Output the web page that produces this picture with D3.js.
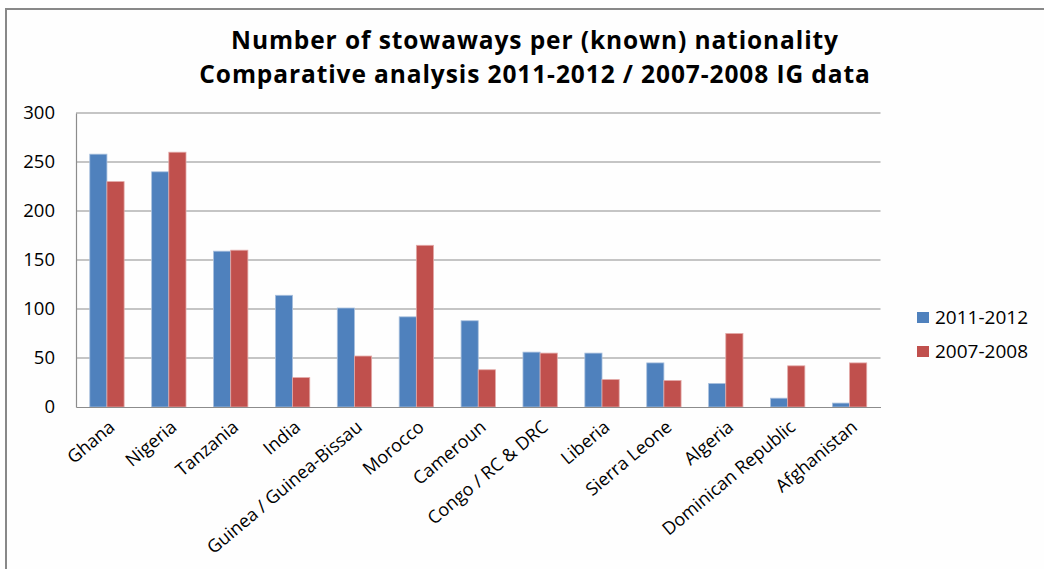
<!DOCTYPE html>
<html><head><meta charset="utf-8">
<script src="https://cdn.jsdelivr.net/npm/d3@7"></script>
<style>
html,body{margin:0;padding:0;background:#fff;}
svg{display:block;}
text{font-family:"Open Sans","Lato",sans-serif;fill:#000;}
</style></head>
<body><svg id="c" width="1044" height="569"></svg>
<script>
const categories = ["Ghana","Nigeria","Tanzania","India","Guinea / Guinea-Bissau","Morocco","Cameroun","Congo / RC & DRC","Liberia","Sierra Leone","Algeria","Dominican Republic","Afghanistan"];
const series = ["2011-2012","2007-2008"];
const values2011 = [258,240,159,114,101,92,88,56,55,45,24,9,4];
const values2007 = [230,260,160,30,52,165,38,55,28,27,75,42,45];
const yTicks = [0,50,100,150,200,250,300];
const titleLines = ["Number of stowaways per (known) nationality","Comparative analysis 2011-2012 / 2007-2008 IG data"];
const colors = ["#4F81BD","#C0504D"];

const svg = d3.select("#c");
svg.append("rect").attr("x",0).attr("y",0).attr("width",1044).attr("height",569).attr("fill","#fefefe");
// outer frame
svg.append("path").attr("d","M6,569 V9 H1044").attr("fill","none").attr("stroke","#888").attr("stroke-width",2);

const m = {l:76, t:113, r:880.5, b:407};
const x0 = d3.scaleBand().domain(categories).range([m.l,m.r]).paddingInner(0.445).paddingOuter(0.2225);
const x1 = d3.scaleBand().domain(series).range([0,x0.bandwidth()]);
const y = d3.scaleLinear().domain([0,300]).range([m.b,m.t]);

// gridlines
svg.append("g").selectAll("line").data(yTicks.filter(d=>d>0)).join("line")
  .attr("x1",m.l).attr("x2",m.r).attr("y1",d=>y(d)).attr("y2",d=>y(d))
  .attr("stroke","#8c8c8c").attr("stroke-width",1.2);

// y axis labels
const yAxis = d3.axisLeft(y).tickValues(yTicks).tickSize(0).tickPadding(21);
const gy = svg.append("g").attr("transform",`translate(${m.l},0)`).call(yAxis);
gy.select(".domain").attr("stroke","#8c8c8c").attr("stroke-width",1.2);
gy.selectAll("text").attr("font-size",18.5).attr("font-family","Open Sans").attr("fill","#000");

// bars
const data = categories.map((c,i)=>({c, vals:[values2011[i],values2007[i]]}));
const groups = svg.append("g").selectAll("g").data(data).join("g")
  .attr("transform",d=>`translate(${x0(d.c)},0)`);
groups.selectAll("rect").data(d=>series.map((s,j)=>({s,v:d.vals[j],j}))).join("rect")
  .attr("x",d=>x1(d.s)).attr("width",x1.bandwidth())
  .attr("y",d=>y(d.v)).attr("height",d=>y(0)-y(d.v))
  .attr("fill",d=>colors[d.j])
  .attr("stroke",d=>d.j===0?"#a9c0de":"#e3a9a7").attr("stroke-width",0.8);

// x axis
const xAxis = d3.axisBottom(x0).tickSize(0).tickPadding(0);
const gx = svg.append("g").attr("transform",`translate(0,${m.b})`).call(xAxis);
gx.select(".domain").attr("stroke","#8c8c8c").attr("stroke-width",1.2);
gx.selectAll("text")
  .attr("font-size",18).attr("font-family","Open Sans").attr("fill","#000")
  .attr("text-anchor","end").attr("dy",0).attr("y",0)
  .attr("transform","translate(9,22) rotate(-40)");

// title
const t = svg.append("text").attr("text-anchor","middle").attr("font-weight","bold").attr("font-size",24.5)
  .attr("letter-spacing",0.9).attr("font-family","Open Sans");
titleLines.forEach((l,i)=>t.append("tspan").attr("x",535).attr("y",49+i*34).text(l));

// legend
const lg = svg.append("g").selectAll("g").data(series).join("g")
  .attr("transform",(d,i)=>`translate(917,${312+i*34})`);
lg.append("rect").attr("width",12).attr("height",11).attr("fill",(d,i)=>colors[i]);
lg.append("text").attr("x",18).attr("y",12).attr("font-size",19).attr("font-family","Open Sans").text(d=>d);
</script></body></html>
